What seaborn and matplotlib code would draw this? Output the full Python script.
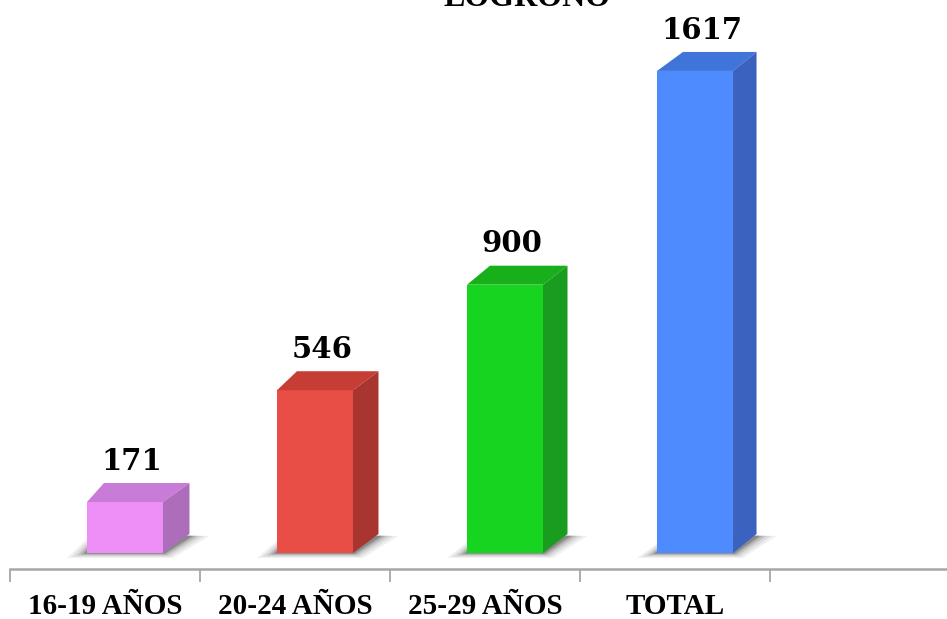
import numpy as np
import pandas as pd
import matplotlib
matplotlib.use("Agg")
import matplotlib.pyplot as plt
import seaborn as sns
from matplotlib.patches import Polygon

# Datos
categories = ["16-19 AÑOS", "20-24 AÑOS", "25-29 AÑOS", "TOTAL"]
values = [171, 546, 900, 1617]
front_colors = ["#EE8FF8", "#E84E45", "#16D41F", "#4E8BFF"]
top_colors = ["#C87CD8", "#C63D36", "#17B01B", "#3F74D9"]
side_colors = ["#AD6DBA", "#A93530", "#1A9C1E", "#3A62BE"]

df = pd.DataFrame({"grupo": categories, "valor": values})

sns.set_style("white")
fig = plt.figure(figsize=(9.47, 6.19), dpi=100)
ax = fig.add_axes([10 / 947, 50 / 619, 937 / 947, 569 / 619])
sns.barplot(data=df, x="grupo", y="valor", hue="grupo", palette=front_colors,
            width=0.4, saturation=1, legend=False, ax=ax, zorder=3,
            linewidth=0, edgecolor="none")
ax.set_xlim(-0.605, 4.326)
ax.set_ylim(-53.7, 1855)

to_disp = ax.transData.transform
to_data = ax.transData.inverted().transform

# caras superior y lateral (efecto 3D) a partir de cada barra
for i, bar in enumerate(ax.patches):
    x0, w, h = bar.get_x(), bar.get_width(), bar.get_height()
    (px0, py0), (px1, py1) = to_disp([(x0, 0), (x0 + w, h)])
    dl = 17 + 3 * i
    dr = 26.5 - 1 * i
    dy = 19
    # sombra difusa en el suelo
    for e, a in [(20, 0.06), (15, 0.08), (10, 0.11), (6, 0.14), (3, 0.18)]:
        shadow = to_data([(px0 - e, py0 - e * 0.25), (px1 + e * 0.5, py0 - e * 0.25),
                          (px1 + dr + e, py0 + dy - 2), (px0 + dl - e * 0.5, py0 + dy + 2)])
        ax.add_patch(Polygon(shadow, closed=True, facecolor="black", alpha=a,
                             edgecolor="none", zorder=1))
    top = to_data([(px0, py1), (px1, py1), (px1 + dr, py1 + dy), (px0 + dl, py1 + dy)])
    side = to_data([(px1, py0), (px1, py1), (px1 + dr, py1 + dy), (px1 + dr, py0 + dy)])
    ax.add_patch(Polygon(top, closed=True, facecolor=top_colors[i], edgecolor="none", zorder=3))
    ax.add_patch(Polygon(side, closed=True, facecolor=side_colors[i], edgecolor="none", zorder=3))
    ax.text(x0 + w / 2 + 0.037, h + 137, str(values[i]), ha="center", va="center",
            fontsize=21, fontweight="bold", family="DejaVu Serif", color="black")

ax.set_xticks(np.arange(len(categories)) - 0.105, labels=categories)
ax.set_xticks(np.arange(len(categories) + 1) - 0.605, minor=True)
ax.tick_params(axis="x", which="both", bottom=True)
ax.tick_params(axis="x", which="major", length=0, pad=17, labelcolor="black")
ax.tick_params(axis="x", which="minor", length=9, width=1.3, color="#A6A6A6", direction="out")
for lab in ax.get_xticklabels():
    lab.set_fontfamily("Liberation Serif")
    lab.set_fontweight("bold")
    lab.set_fontsize(21)
ax.set_yticks([])
ax.set_xlabel("")
ax.set_ylabel("")
for s in ["top", "left", "right"]:
    ax.spines[s].set_visible(False)
ax.spines["bottom"].set_color("#A6A6A6")
ax.spines["bottom"].set_linewidth(1.8)

fig.text(527 / 947, 1 - 6 / 619, "LOGROÑO", ha="center", va="baseline",
         fontsize=23, fontweight="bold", family="Liberation Serif", color="black")

fig.savefig("out.png", dpi=100)
